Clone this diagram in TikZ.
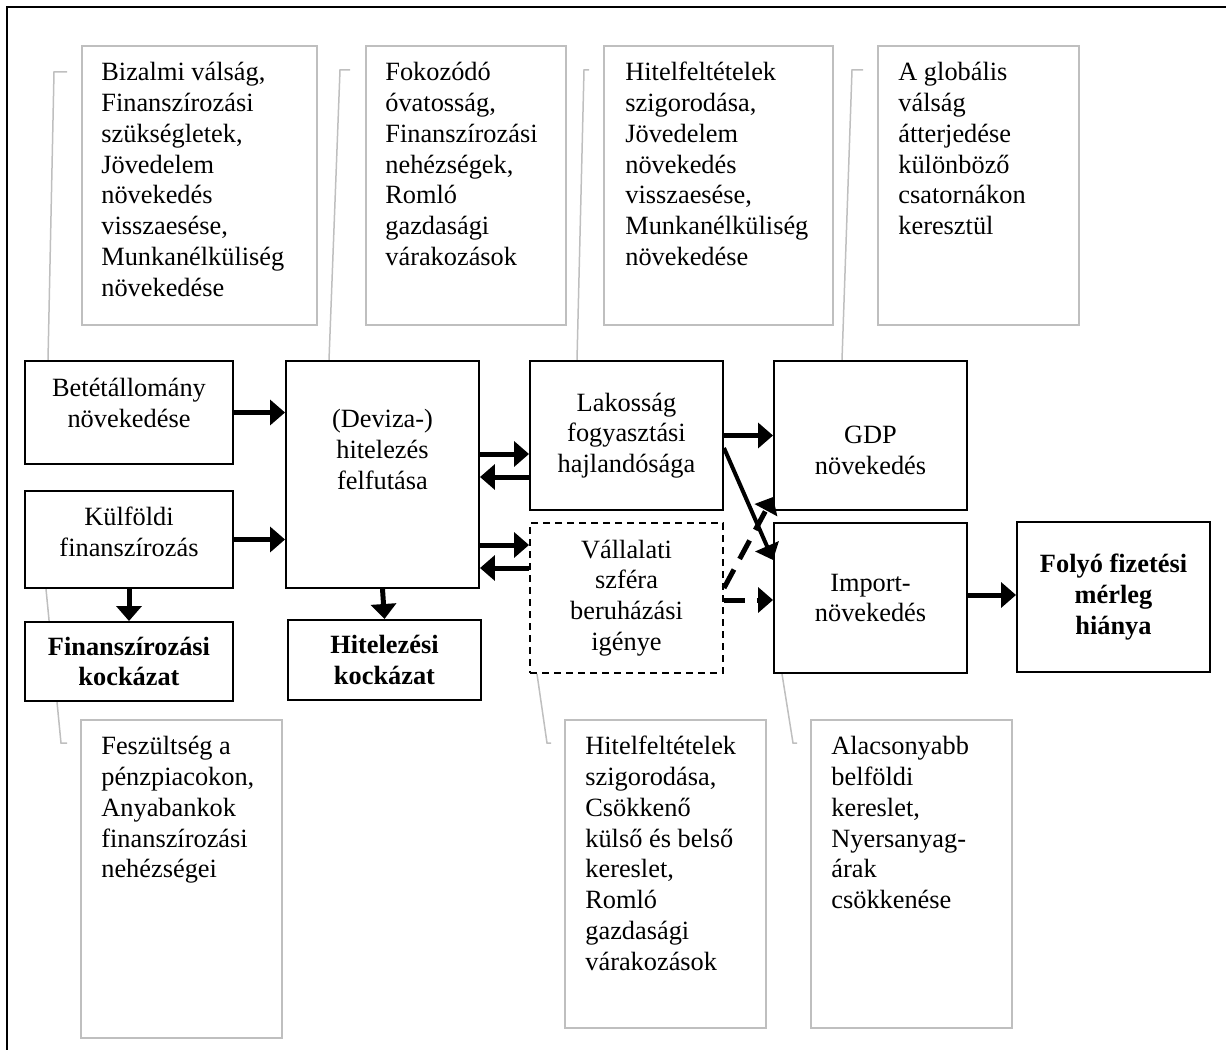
\documentclass[tikz,border=0pt]{standalone}
\usepackage{fontspec}
\setmainfont{Liberation Serif}
\usetikzlibrary{arrows.meta,backgrounds}
\definecolor{callgray}{RGB}{191,191,191}

\begin{document}
\begin{tikzpicture}[x=0.02cm, y=-0.02cm,
    font=\fontsize{15}{17.5}\selectfont,
    blk/.style={draw, line width=0.04cm, fill=white, minimum width=3.86cm,
                align=center, inner sep=2pt},
    risk/.style={blk, font=\fontsize{15}{17.5}\selectfont\bfseries},
    call/.style={draw=callgray, line width=0.04cm, fill=white,
                 minimum width=4.02cm, minimum height=6.16cm},
    calltxt/.style={anchor=north west, align=left, inner sep=0pt},
    lead/.style={draw=callgray, line width=0.03cm},
    arr/.style={line width=0.1cm, -{Triangle[length=0.3cm,width=0.5cm]}},
    darr/.style={arr, dash pattern=on 0.42cm off 0.24cm}]
  \useasboundingbox (0,0) rectangle (1226,1050);
  \draw[line width=0.05cm] (7,1050) -- (7,7) -- (1226,7);

  % upper notes
  \node[call, minimum width=4.7cm, minimum height=5.58cm] (c1) at (199.5,185.5) {};
  \node[call, minimum width=4.0cm, minimum height=5.58cm] (c2) at (466,185.5) {};
  \node[call, minimum width=4.58cm, minimum height=5.58cm] (c3) at (718.5,185.5) {};
  \node[call, minimum height=5.58cm] (c4) at (978.5,185.5) {};
  \node[calltxt] (c1t) at ([xshift=0.4cm,yshift=-0.28cm]c1.north west)
    {\strut Bizalmi válság,\\Finanszírozási\\szükségletek,\\Jövedelem\\növekedés\\visszaesése,\\Munkanélküliség\\növekedése};
  \node[calltxt] (c2t) at ([xshift=0.4cm,yshift=-0.28cm]c2.north west)
    {\strut Fokozódó\\óvatosság,\\Finanszírozási\\nehézségek,\\Romló\\gazdasági\\várakozások};
  \node[calltxt] (c3t) at ([xshift=0.44cm,yshift=-0.28cm]c3.north west)
    {\strut Hitelfeltételek\\szigorodása,\\Jövedelem\\növekedés\\visszaesése,\\Munkanélküliség\\növekedése};
  \node[calltxt] (c4t) at ([xshift=0.42cm,yshift=-0.28cm]c4.north west)
    {\strut A globális\\válság\\átterjedése\\különböző\\csatornákon\\keresztül};

  % main blocks
  \node[blk, minimum width=4.16cm, minimum height=2.06cm] (betet) at (129,412.5)
    {Betétállomány\\növekedése\rule[-11pt]{0pt}{11pt}};
  \node[blk, minimum width=4.16cm, minimum height=1.94cm] (kulfoldi) at (129,539.5)
    {Külföldi\\finanszírozás\rule[-9pt]{0pt}{9pt}};
  \node[risk, minimum width=4.16cm, minimum height=1.58cm] (finkock) at (129,661.5) {Finanszírozási\\kockázat};
  \node[blk, minimum height=4.54cm] (deviza) at (382.5,474.5) {(Deviza-)\\hitelezés\\felfutása\\[6pt]\strut};
  \node[risk, minimum height=1.6cm] (hitkock) at (384.5,660) {Hitelezési\\kockázat};
  \node[blk, minimum height=2.98cm] (lakossag) at (626.5,435.5) {Lakosság\\fogyasztási\\hajlandósága};
  \node[blk, minimum height=3.0cm, dash pattern=on 0.14cm off 0.1cm] (vallalati) at (626.5,598)
    {Vállalati\\szféra\\beruházási\\igénye};
  \node[blk, minimum height=2.98cm] (gdp) at (870.5,435.5) {\rule{0pt}{27pt}GDP\\növekedés};
  \node[blk, minimum height=3.0cm] (imp) at (870.5,598) {Import-\\növekedés};
  \node[risk, minimum height=3.0cm] (folyo) at (1113.5,597) {Folyó fizetési\\mérleg\\hiánya};

  % lower notes
  \node[call, minimum height=6.36cm] (b1) at (181.5,879) {};
  \node[call] (b2) at (665.5,874) {};
  \node[call] (b3) at (911.5,874) {};
  \node[calltxt] (b1t) at ([xshift=0.42cm,yshift=-0.28cm]b1.north west)
    {\strut Feszültség a\\pénzpiacokon,\\Anyabankok\\finanszírozási\\nehézségei};
  \node[calltxt] (b2t) at ([xshift=0.42cm,yshift=-0.28cm]b2.north west)
    {\strut Hitelfeltételek\\szigorodása,\\Csökkenő\\külső és belső\\kereslet,\\Romló\\gazdasági\\várakozások};
  \node[calltxt] (b3t) at ([xshift=0.42cm,yshift=-0.28cm]b3.north west)
    {\strut Alacsonyabb\\belföldi\\kereslet,\\Nyersanyag-\\árak\\csökkenése};

  % callout leaders
  \coordinate (k1) at (67,72);
  \coordinate (k2) at (350,70);
  \coordinate (k3) at (589,70);
  \coordinate (k4) at (863,70);
  \coordinate (k5) at (67,743);
  \coordinate (k6) at (551,743);
  \coordinate (k7) at (797,743);
  \begin{scope}[on background layer]
    \draw[lead] (k1) -- ++(-13,0) -- (48,0 |- betet.north);
    \draw[lead] (k2) -- ++(-10,0) -- (329,0 |- deviza.north);
    \draw[lead] (k3) -- ++(-5,0) -- (577,0 |- lakossag.north);
    \draw[lead] (k4) -- ++(-11,0) -- (842,0 |- gdp.north);
    \draw[lead] (k5) -- ++(-6,0) -- (46,0 |- kulfoldi.south);
    \draw[lead] (k6) -- ++(-4,0) -- (537,0 |- vallalati.south);
    \draw[lead] (k7) -- ++(-4,0) -- (782,0 |- imp.south);
  \end{scope}

  % arrows
  \draw[arr] (betet.east) -- (betet.east -| deviza.west);
  \draw[arr] (kulfoldi.east) -- (kulfoldi.east -| deviza.west);
  \draw[arr] (kulfoldi.south) -- (finkock.north);
  \draw[arr] (deviza.south) -- (hitkock.north);
  \draw[arr] (deviza.east |- 0,454) -- (lakossag.west |- 0,454);
  \draw[arr] (lakossag.west |- 0,477) -- (deviza.east |- 0,477);
  \draw[arr] (deviza.east |- 0,545) -- (vallalati.west |- 0,545);
  \draw[arr] (vallalati.west |- 0,568) -- (deviza.east |- 0,568);
  \draw[arr] (lakossag.east) -- (gdp.west);
  \draw[arr, line width=0.08cm] (lakossag.east |- 0,448) -- (imp.west |- 0,560);
  \draw[darr] (vallalati.east |- 0,588) -- (gdp.west |- 0,497);
  \draw[darr] (vallalati.east |- 0,600) -- (imp.west |- 0,600);
  \draw[arr] (imp.east |- 0,595) -- (folyo.west |- 0,595);
\end{tikzpicture}
\end{document}
